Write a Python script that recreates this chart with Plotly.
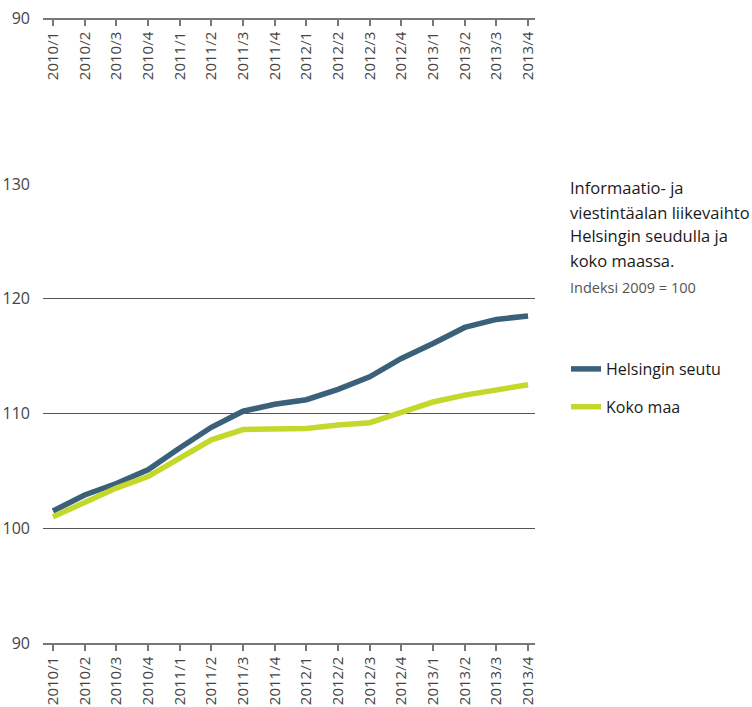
import plotly.graph_objects as go

quarters = ["2010/1", "2010/2", "2010/3", "2010/4",
            "2011/1", "2011/2", "2011/3", "2011/4",
            "2012/1", "2012/2", "2012/3", "2012/4",
            "2013/1", "2013/2", "2013/3", "2013/4"]

helsinki = [101.5, 102.9, 103.9, 105.1, 107.0, 108.8, 110.2, 110.8,
            111.2, 112.1, 113.2, 114.8, 116.1, 117.5, 118.2, 118.5]
koko_maa = [101.0, 102.2, 103.5, 104.5, 106.1, 107.7, 108.6, 108.7,
            108.7, 109.0, 109.2, 110.1, 111.0, 111.6, 112.0, 112.5]

series_names = ["Helsingin seutu", "Koko maa"]
series_colors = ["#3a6179", "#c4d82c"]

W, H = 752, 707
FONT = "Open Sans"
TICK_COLOR = "#444444"
AXIS_COLOR = "#777777"


def py(px):
    """Convert a pixel row (from top) into a paper fraction."""
    return (H - px) / H


def px_(x):
    """Convert a pixel column into a paper fraction."""
    return x / W


fig = go.Figure()

for name, values, color, grp in zip(series_names, [helsinki, koko_maa],
                                    series_colors, ["a", "b"]):
    fig.add_trace(go.Scatter(
        x=quarters, y=values, name=name, mode="lines",
        line=dict(color=color, width=5.5),
        legendgroup=grp,
        xaxis="x", yaxis="y",
    ))

# carrier trace so the top strip's category axis knows the quarters
fig.add_trace(go.Scatter(
    x=quarters, y=[None] * len(quarters), mode="lines",
    showlegend=False, hoverinfo="skip", xaxis="x2", yaxis="y2",
))

xrange = [-0.316, 15.22]
xdomain = [px_(43), px_(535)]
common_x = dict(
    type="category", categoryorder="array", categoryarray=quarters,
    range=xrange, domain=xdomain, showgrid=False, zeroline=False,
    showline=True, linecolor=AXIS_COLOR, linewidth=1.5,
    ticks="outside", ticklen=6, tickcolor=AXIS_COLOR, tickwidth=1.5,
    tickangle=-90, automargin=False,
    tickfont=dict(family=FONT, size=15, color=TICK_COLOR),
)
common_y = dict(
    zeroline=False, showline=False, ticks="", automargin=False,
    tickfont=dict(family=FONT, size=16, color=TICK_COLOR),
    ticklabelstandoff=12,
)

fig.update_layout(
    width=W, height=H,
    margin=dict(l=0, r=0, t=0, b=0, autoexpand=False),
    paper_bgcolor="white", plot_bgcolor="rgba(0,0,0,0)",
    xaxis=dict(common_x, anchor="y"),
    yaxis=dict(
        common_y,
        domain=[py(643), py(184)], range=[90, 130],
        tickvals=[90, 100, 110, 120, 130],
        showgrid=True, gridcolor="#555555", gridwidth=1,
    ),
    xaxis2=dict(common_x, anchor="y2"),
    yaxis2=dict(
        common_y,
        domain=[py(18), py(8)], range=[90, 91],
        tickvals=[90], showgrid=False,
    ),
    showlegend=True,
    legend=dict(
        x=px_(566), y=py(352), xanchor="left", yanchor="top",
        font=dict(family=FONT, size=16, color="#1a1a1a"),
        tracegroupgap=14, itemwidth=30,
        bgcolor="rgba(0,0,0,0)",
    ),
)

title_lines = ["Informaatio- ja", "viestintäalan liikevaihto",
               "Helsingin seudulla ja", "koko maassa."]
for i, line in enumerate(title_lines):
    fig.add_annotation(
        text=line, xref="paper", yref="paper",
        x=px_(568), y=py(188 + 24 * i), xanchor="left", yanchor="middle",
        showarrow=False,
        font=dict(family=FONT, size=16.5, color="#1a1a1a"),
    )
fig.add_annotation(
    text="Indeksi 2009 = 100", xref="paper", yref="paper",
    x=px_(568), y=py(287), xanchor="left", yanchor="middle",
    showarrow=False,
    font=dict(family=FONT, size=14.5, color="#555555"),
)

fig.write_html("out.html")
